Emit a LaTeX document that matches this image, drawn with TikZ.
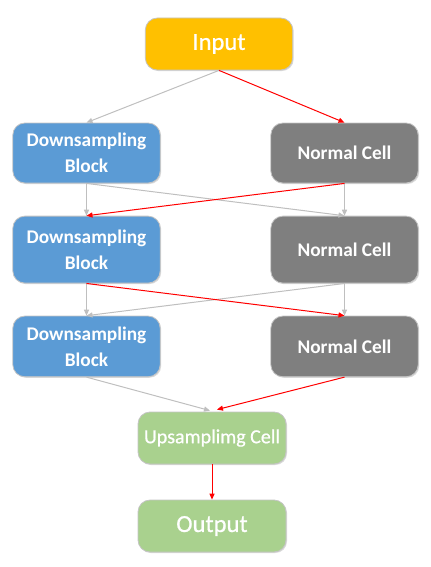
\documentclass[tikz,border=0pt]{standalone}
\usepackage{fontspec}
\setmainfont{Carlito}
\newfontfamily\semiregular[FakeBold=0.7]{Carlito}
\usetikzlibrary{arrows.meta,shadows,calc}
\definecolor{cinput}{HTML}{FFC000}
\definecolor{cblue}{HTML}{5B9BD5}
\definecolor{cgray}{HTML}{7F7F7F}
\definecolor{cgreen}{HTML}{A9D18E}
\definecolor{cedge}{HTML}{BFBFBF}
\definecolor{cborder}{HTML}{C4C4C4}
\definecolor{cred}{HTML}{FF0000}
\begin{document}
\begin{tikzpicture}[x=0.75pt,y=-0.75pt,
  box/.style={rounded corners=9pt, draw=cborder, line width=0.6pt, text=white,
    align=center, inner sep=0pt, minimum width=110.5pt,
    drop shadow={shadow xshift=0.8pt, shadow yshift=-0.8pt, opacity=0.15, fill=black}},
  title/.style={box, font=\semiregular\fontsize{18.4pt}{22pt}\selectfont},
  cellbox/.style={box, font=\bfseries\fontsize{14.5pt}{19.5pt}\selectfont},
  upbox/.style={box, font=\semiregular\fontsize{15pt}{19pt}\selectfont},
  greyline/.style={draw=cedge, line width=0.75pt, -{Triangle[length=4.5pt,width=3.8pt]}},
  redline/.style={draw=cred, line width=0.75pt, -{Triangle[length=4.5pt,width=3.8pt]}}
]
\useasboundingbox (0,0) rectangle (430,567);
\node[title, fill=cinput, minimum height=39pt] (in) at (219,44) {Input};
\node[cellbox, fill=cblue, minimum height=45pt] (ds1) at (86.5,153) {Downsampling\\Block};
\node[cellbox, fill=cgray, minimum height=45pt] (nc1) at (344.5,153) {Normal Cell};
\node[cellbox, fill=cblue, minimum height=50.2pt] (ds2) at (86.5,249.6) {Downsampling\\Block};
\node[cellbox, fill=cgray, minimum height=50.2pt] (nc2) at (344.5,249.6) {Normal Cell};
\node[cellbox, fill=cblue, minimum height=45.5pt] (ds3) at (86.5,346.4) {Downsampling\\Block};
\node[cellbox, fill=cgray, minimum height=45.5pt] (nc3) at (344.5,346.4) {Normal Cell};
\node[upbox, fill=cgreen, minimum height=39pt, minimum width=111pt] (up) at (212,438) {Upsamplimg Cell};
\node[title, fill=cgreen, minimum height=39pt, minimum width=111pt] (out) at (212,526) {Output};

\draw[greyline] (in.south) -- (ds1.north);
\draw[redline] (in.south) -- (nc1.north);
\draw[greyline] (ds1.south) -- (ds2.north);
\draw[greyline] (ds1.south) -- (nc2.north);
\draw[greyline] (nc1.south) -- (nc2.north);
\draw[redline] (nc1.south) -- (ds2.north);
\draw[greyline] (ds2.south) -- (ds3.north);
\draw[greyline] (nc2.south) -- (ds3.north);
\draw[greyline] (nc2.south) -- (nc3.north);
\draw[redline] (ds2.south) -- (nc3.north);
\draw[greyline] (ds3.south) -- ($(up.north)+(-2,-1)$);
\draw[redline] (nc3.south) -- ($(up.north)+(5,-2)$);
\draw[redline] (up.south) -- (out.north);
\end{tikzpicture}
\end{document}
